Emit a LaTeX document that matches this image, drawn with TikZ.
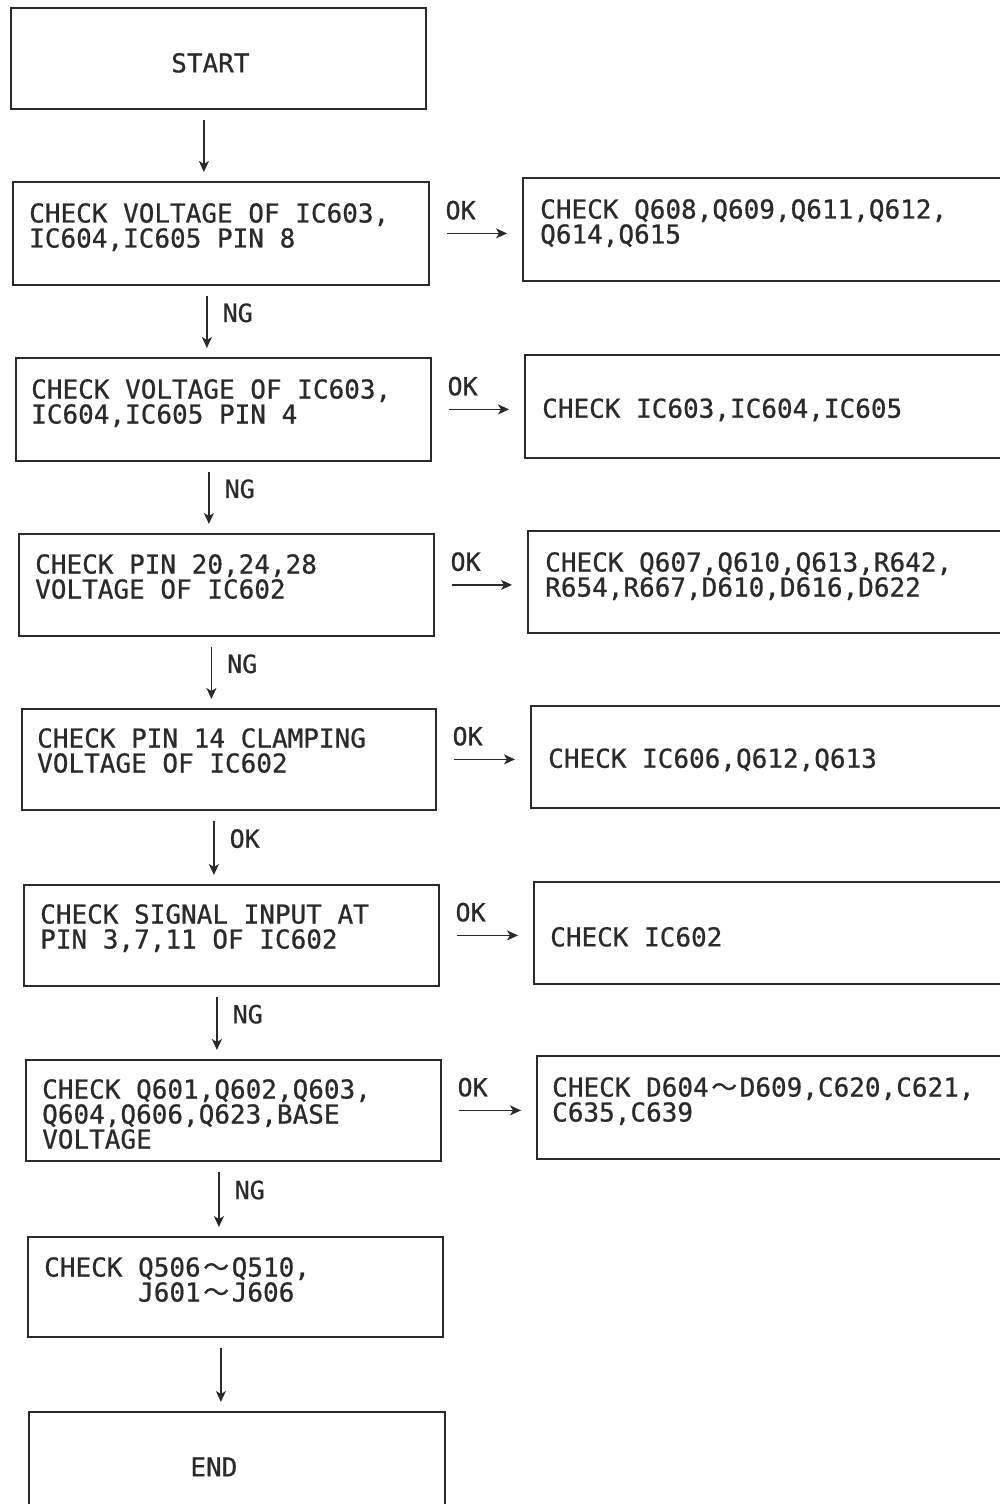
\documentclass[tikz,border=0pt]{standalone}
\usepackage{fontspec}
\setmonofont{DejaVu Sans Mono}[FakeBold=0.7]
\newfontfamily\cjk{Noto Sans CJK JP}[FakeBold=0.7]
\usetikzlibrary{arrows.meta}
\definecolor{ink}{HTML}{2A2A2A}
\newcommand\wavy{\makebox[31pt]{\cjk\fontsize{26}{25}\selectfont 〜}}
\begin{document}
\begin{tikzpicture}[x=1pt,y=-1pt,
  box/.style={draw=ink, line width=1.8pt, inner sep=0pt, anchor=north west},
  txt/.style={inner sep=0pt, anchor=north west, align=left, text=ink, font=\ttfamily\fontsize{26}{25}\selectfont},
  lbl/.style={inner sep=0pt, text=ink, font=\ttfamily\fontsize{25}{25}\selectfont},
  arr/.style={draw=ink, line width=1.5pt, -{Stealth[length=11pt,width=10pt,inset=3pt]}},
  vconn/.style={arr, shorten <=10pt, shorten >=9pt},
  hconn/.style={arr, shorten <=17pt, shorten >=15pt},
]
\useasboundingbox (0,0) rectangle (1000,1504);
\clip (0,0) rectangle (1000,1504);
\fill[white] (0,0) rectangle (1000,1504);

% left column boxes
\node[box, minimum width=415pt, minimum height=101pt] (b0) at (10,7) {};
\node[box, minimum width=416pt, minimum height=103pt] (b1) at (12,181) {};
\node[box, minimum width=415pt, minimum height=103pt] (b2) at (15,357) {};
\node[box, minimum width=415pt, minimum height=102pt] (b3) at (18,533) {};
\node[box, minimum width=414pt, minimum height=101pt] (b4) at (21,708) {};
\node[box, minimum width=415pt, minimum height=101pt] (b5) at (23,884) {};
\node[box, minimum width=415pt, minimum height=101pt] (b6) at (25,1059) {};
\node[box, minimum width=415pt, minimum height=100pt] (b7) at (27,1236) {};
\node[box, minimum width=416pt, minimum height=110pt] (b8) at (28,1411) {};

% right column boxes
\node[box, minimum width=490pt, minimum height=103pt] (r1) at (522,177) {};
\node[box, minimum width=490pt, minimum height=103pt] (r2) at (524,354) {};
\node[box, minimum width=490pt, minimum height=102pt] (r3) at (527,530) {};
\node[box, minimum width=490pt, minimum height=102pt] (r4) at (530,705) {};
\node[box, minimum width=490pt, minimum height=102pt] (r5) at (533,881) {};
\node[box, minimum width=490pt, minimum height=103pt] (r6) at (536,1055) {};

% texts
\node[txt, anchor=center] (t0) at ([xshift=-8pt,yshift=-4.5pt]b0.center) {START};
\node[txt] (t1) at ([xshift=17pt,yshift=-22pt]b1.north west) {CHECK VOLTAGE OF IC603,\\IC604,IC605 PIN 8};
\node[txt] (t2) at ([xshift=16pt,yshift=-22pt]b2.north west) {CHECK VOLTAGE OF IC603,\\IC604,IC605 PIN 4};
\node[txt] (t3) at ([xshift=17pt,yshift=-21pt]b3.north west) {CHECK PIN 20,24,28\\VOLTAGE OF IC602};
\node[txt] (t4) at ([xshift=16pt,yshift=-20pt]b4.north west) {CHECK PIN 14 CLAMPING\\VOLTAGE OF IC602};
\node[txt] (t5) at ([xshift=17pt,yshift=-20pt]b5.north west) {CHECK SIGNAL INPUT AT\\PIN 3,7,11 OF IC602};
\node[txt] (t6) at ([xshift=17pt,yshift=-20pt]b6.north west) {CHECK Q601,Q602,Q603,\\Q604,Q606,Q623,BASE\\VOLTAGE};
\node[txt] (t7) at ([xshift=17pt,yshift=-21pt]b7.north west) {CHECK Q506\wavy Q510,\\\phantom{CHECK}\ J601\wavy J606};
\node[txt, anchor=center] (t8) at ([xshift=-23pt,yshift=-0pt]b8.center) {END};

\node[txt] (u1) at ([xshift=18pt,yshift=-22pt]r1.north west) {CHECK Q608,Q609,Q611,Q612,\\Q614,Q615};
\node[txt, anchor=west] (u2) at ([xshift=18pt,yshift=-3.5pt]r2.west) {CHECK IC603,IC604,IC605};
\node[txt] (u3) at ([xshift=18pt,yshift=-22pt]r3.north west) {CHECK Q607,Q610,Q613,R642,\\R654,R667,D610,D616,D622};
\node[txt, anchor=west] (u4) at ([xshift=18pt,yshift=-3pt]r4.west) {CHECK IC606,Q612,Q613};
\node[txt, anchor=west] (u5) at ([xshift=17pt,yshift=-4pt]r5.west) {CHECK IC602};
\node[txt] (u6) at ([xshift=16pt,yshift=-22pt]r6.north west) {CHECK D604\wavy D609,C620,C621,\\C635,C639};

% vertical connectors
\coordinate (s0) at ([xshift=-14.5pt]b0.south);
\coordinate (s1) at ([xshift=-14pt]b1.south);
\coordinate (s2) at ([xshift=-14.5pt]b2.south);
\coordinate (s3) at ([xshift=-15pt]b3.south);
\coordinate (s4) at ([xshift=-15pt]b4.south);
\coordinate (s5) at ([xshift=-14.5pt]b5.south);
\coordinate (s6) at ([xshift=-14.5pt]b6.south);
\coordinate (s7) at ([xshift=-14.5pt]b7.south);

\draw[vconn] (s0) -- (s0 |- b1.north);
\draw[vconn] (s1) -- (s1 |- b2.north) node[lbl, pos=0.38, anchor=west, xshift=15pt] (n1) {NG};
\draw[vconn] (s2) -- (s2 |- b3.north) node[lbl, pos=0.38, anchor=west, xshift=15pt] (n2) {NG};
\draw[vconn] (s3) -- (s3 |- b4.north) node[lbl, pos=0.38, anchor=west, xshift=15pt] (n3) {NG};
\draw[vconn] (s4) -- (s4 |- b5.north) node[lbl, pos=0.38, anchor=west, xshift=15pt] (n4) {OK};
\draw[vconn] (s5) -- (s5 |- b6.north) node[lbl, pos=0.38, anchor=west, xshift=15pt] (n5) {NG};
\draw[vconn] (s6) -- (s6 |- b7.north) node[lbl, pos=0.38, anchor=west, xshift=15pt] (n6) {NG};
\draw[vconn] (s7) -- (s7 |- b8.north);

% horizontal connectors
\draw[hconn] (b1.east) -- (b1.east -| r1.west) node[lbl, pos=0, anchor=south west, xshift=15pt, yshift=13pt] (k1) {OK};
\draw[hconn] (b2.east) -- (b2.east -| r2.west) node[lbl, pos=0, anchor=south west, xshift=15pt, yshift=13pt] (k2) {OK};
\draw[hconn] (b3.east) -- (b3.east -| r3.west) node[lbl, pos=0, anchor=south west, xshift=15pt, yshift=13pt] (k3) {OK};
\draw[hconn] (b4.east) -- (b4.east -| r4.west) node[lbl, pos=0, anchor=south west, xshift=15pt, yshift=13pt] (k4) {OK};
\draw[hconn] (b5.east) -- (b5.east -| r5.west) node[lbl, pos=0, anchor=south west, xshift=15pt, yshift=13pt] (k5) {OK};
\draw[hconn] (b6.east) -- (b6.east -| r6.west) node[lbl, pos=0, anchor=south west, xshift=15pt, yshift=13pt] (k6) {OK};
\end{tikzpicture}
\end{document}
